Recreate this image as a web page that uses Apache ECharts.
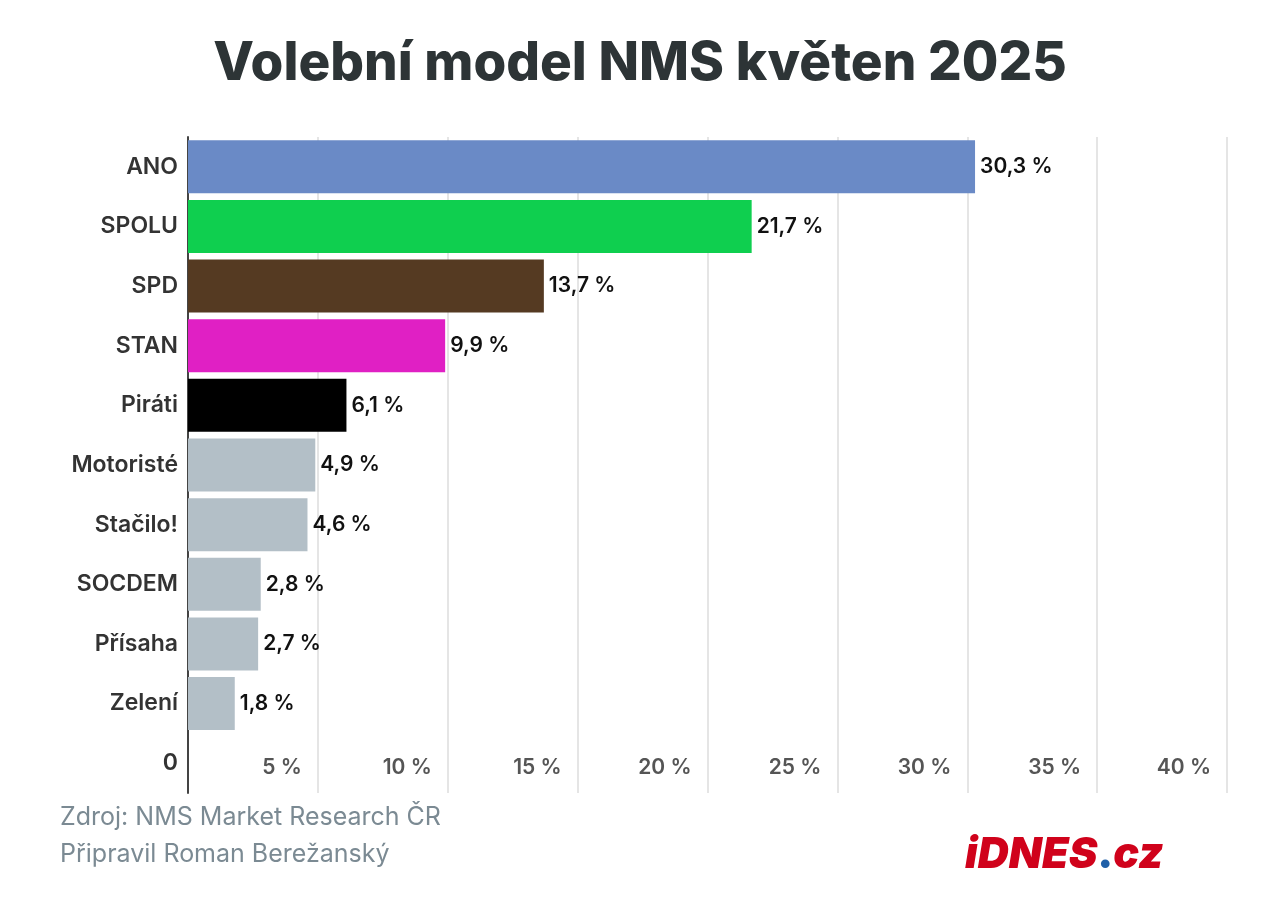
<!DOCTYPE html>
<html><head><meta charset="utf-8">
<script src="https://cdn.jsdelivr.net/npm/echarts@6/dist/echarts.min.js"></script>
<style>html,body{margin:0;padding:0;background:#fff}#c{width:1280px;height:904px}</style>
</head><body><div id="c"></div>
<script>
const categories = ['ANO','SPOLU','SPD','STAN','Piráti','Motoristé','Stačilo!','SOCDEM','Přísaha','Zelení','0'];
const values = [30.3,21.7,13.7,9.9,6.1,4.9,4.6,2.8,2.7,1.8,null];
const colors = ['#6a8ac6','#0fcf4f','#553a22','#e020c4','#000000','#b3bfc7','#b3bfc7','#b3bfc7','#b3bfc7','#b3bfc7','#b3bfc7'];
const tickLabels = {5:'5 %',10:'10 %',15:'15 %',20:'20 %',25:'25 %',30:'30 %',35:'35 %',40:'40 %'};
const FONT = 'Inter, Roboto, sans-serif';
const chart = echarts.init(document.getElementById('c'));
chart.setOption({
  animation:false,
  title:{text:'Volební model NMS květen 2025',left:'center',top:33,
    textStyle:{fontFamily:FONT,fontWeight:800,fontSize:53,color:'#2d3436'}},
  grid:{left:188,right:53,top:137,bottom:111},
  xAxis:{type:'value',min:0,max:40,interval:5,
    axisLine:{show:false},axisTick:{show:false},
    splitLine:{lineStyle:{color:'#dddddd',width:1.5}},
    axisLabel:{inside:true,margin:15,align:'right',padding:[0,16,0,0],
      fontFamily:FONT,fontSize:21,fontWeight:600,color:'#555',
      formatter:v=>tickLabels[v]||''}},
  yAxis:{type:'category',data:categories,inverse:true,
    axisLine:{lineStyle:{color:'#444',width:2}},axisTick:{show:false},
    axisLabel:{fontFamily:FONT,fontSize:23,fontWeight:600,color:'#333',margin:10}},
  series:[{type:'bar',barWidth:53,
    data:values.map((v,i)=>({value:v,itemStyle:{color:colors[i]}})),
    label:{show:true,position:'right',distance:5,fontFamily:FONT,fontSize:21,fontWeight:600,color:'#111',
      formatter:p=>p.value==null?'':String(p.value).replace('.',',')+' %'}}],
  graphic:[
    {type:'text',left:60,top:805,style:{text:'Zdroj: NMS Market Research ČR',font:'25px '+FONT,fill:'#7b8a93'}},
    {type:'text',left:60,top:842,style:{text:'Připravil Roman Berežanský',font:'25px '+FONT,fill:'#7b8a93'}},
    {type:'text',left:965,top:834,style:{
      text:'{a|iDNES}{d|.}{a|cz}',
      rich:{a:{fontFamily:FONT,fontSize:43,fontWeight:900,fontStyle:'italic',fill:'#d0021b'},
            d:{fontFamily:FONT,fontSize:43,fontWeight:900,fill:'#1f5fa8'}}}}
  ]
});
</script></body></html>
